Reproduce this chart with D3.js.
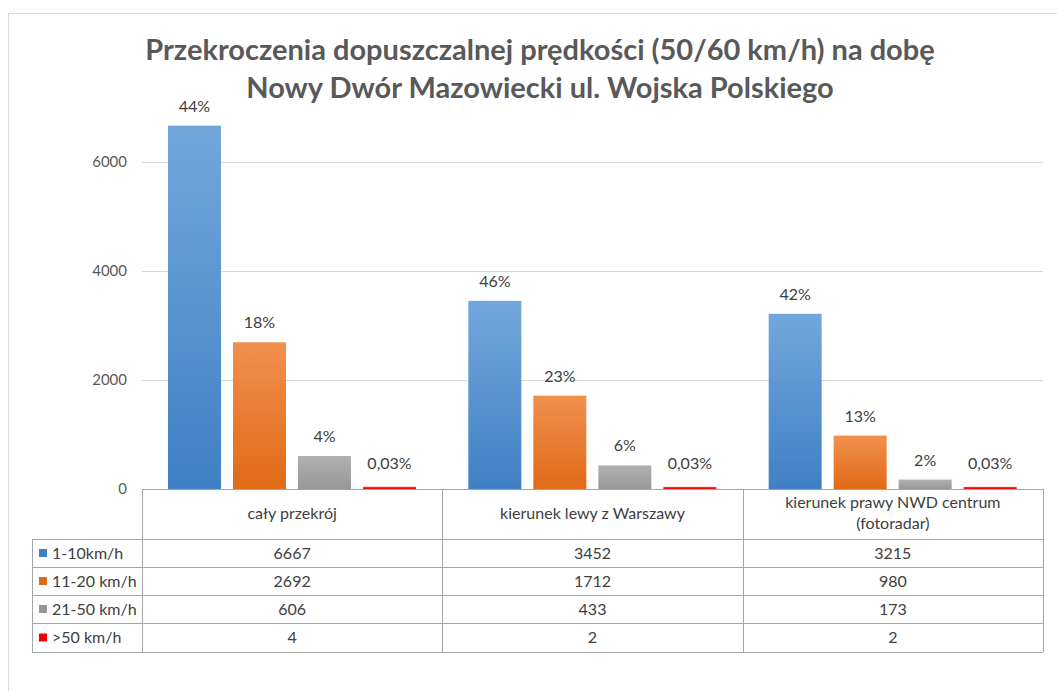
<!DOCTYPE html>
<html>
<head>
<meta charset="utf-8">
<script src="https://cdn.jsdelivr.net/npm/d3@7.9.0/dist/d3.min.js"></script>
<style>
  body { margin: 0; background: #fff; }
  text { font-family: Lato, "Open Sans", sans-serif; }
</style>
</head>
<body>
<div id="chart"></div>
<script>
// data
const categories = ["cały przekrój", "kierunek lewy z Warszawy", "kierunek prawy NWD centrum (fotoradar)"];
const seriesNames = ["1-10km/h", "11-20 km/h", "21-50 km/h", ">50 km/h"];
const values = [
  [6667, 3452, 3215],
  [2692, 1712, 980],
  [606, 433, 173],
  [4, 2, 2]
];
const percentLabels = [
  ["44%", "46%", "42%"],
  ["18%", "23%", "13%"],
  ["4%", "6%", "2%"],
  ["0,03%", "0,03%", "0,03%"]
];
const yTicks = [0, 2000, 4000, 6000];
const titleLines = ["Przekroczenia dopuszczalnej prędkości (50/60 km/h) na dobę",
                    "Nowy Dwór Mazowiecki ul. Wojska Polskiego"];
const colors = [["#72a7dc", "#3f80c4"], ["#f1904e", "#e06a17"], ["#b1b1b1", "#979797"], ["#ff3b3b", "#ee0000"]];

const W = 1057, H = 691;
const plot = {left: 142, right: 1043, top: 100, bottom: 489};
const rowH = [50, 28, 28, 28, 29];

const svg = d3.select("#chart").append("svg")
    .attr("width", W).attr("height", H);

// gradients
const defs = svg.append("defs");
colors.forEach((c, i) => {
  const g = defs.append("linearGradient").attr("id", "grad" + i)
      .attr("x1", 0).attr("y1", 0).attr("x2", 0).attr("y2", 1);
  g.append("stop").attr("offset", "0%").attr("stop-color", c[0]);
  g.append("stop").attr("offset", "100%").attr("stop-color", c[1]);
});

// outer frame
svg.append("rect")
    .attr("x", 8.5).attr("y", 13.5).attr("width", W).attr("height", H)
    .attr("fill", "none").attr("stroke", "#d9d9d9");

// title
svg.selectAll(".title").data(titleLines).join("text")
    .attr("class", "title")
    .attr("x", 540).attr("y", (d, i) => 60 + i * 38)
    .attr("text-anchor", "middle")
    .style("font-size", "29px").style("font-weight", "bold")
    .attr("fill", "#595959")
    .text(d => d);

// scales
const x0 = d3.scaleBand().domain(categories).range([plot.left, plot.right]);
const x1 = d3.scaleBand().domain(d3.range(seriesNames.length)).range([26, 274]).paddingInner(0.185);
const y = d3.scaleLinear().domain([0, 2000]).range([plot.bottom, plot.bottom - 109]);

// gridlines + y labels
svg.append("g").selectAll("line").data(yTicks.filter(d => d > 0)).join("line")
    .attr("x1", plot.left).attr("x2", plot.right)
    .attr("y1", d => Math.round(y(d)) + 0.5).attr("y2", d => Math.round(y(d)) + 0.5)
    .attr("stroke", "#d9d9d9");
svg.append("g").selectAll("text").data(yTicks).join("text")
    .attr("x", 127).attr("y", d => y(d) + 5)
    .attr("text-anchor", "end")
    .style("font-size", "15px").attr("fill", "#595959")
    .text(d => d);

// bars
const groups = svg.append("g").selectAll("g").data(values).join("g");
groups.selectAll("rect").data((row, si) => row.map((v, ci) => ({v, ci, si}))).join("rect")
    .attr("x", d => x0(categories[d.ci]) + x1(d.si))
    .attr("y", d => y(d.v) - (d.si === 3 ? 2 : 0))
    .attr("width", x1.bandwidth())
    .attr("height", d => plot.bottom - y(d.v) + (d.si === 3 ? 2 : 0))
    .attr("fill", d => `url(#grad${d.si})`);

// percentage labels
groups.selectAll("text").data((row, si) => row.map((v, ci) => ({v, ci, si}))).join("text")
    .attr("x", d => x0(categories[d.ci]) + x1(d.si) + x1.bandwidth() / 2)
    .attr("y", d => y(d.v) - (d.si === 3 ? 20 : 14))
    .attr("text-anchor", "middle")
    .style("font-size", "16px").attr("fill", "#404040")
    .text(d => percentLabels[d.si][d.ci]);

// data table
const rowY = [plot.bottom];
rowH.forEach((h, i) => rowY.push(rowY[i] + h));
const tableLeft = 32;
const tbl = svg.append("g").attr("stroke", "#a6a6a6").attr("fill", "none");
// horizontal lines
rowY.forEach((ry, i) => {
  tbl.append("line")
      .attr("x1", i === 0 ? plot.left : tableLeft).attr("x2", plot.right)
      .attr("y1", ry + 0.5).attr("y2", ry + 0.5);
});
// vertical lines
tbl.append("line").attr("x1", tableLeft + 0.5).attr("x2", tableLeft + 0.5)
    .attr("y1", rowY[1]).attr("y2", rowY[5]);
[...categories.map(c => x0(c)), plot.right].forEach(xv => {
  tbl.append("line").attr("x1", Math.round(xv) + 0.5).attr("x2", Math.round(xv) + 0.5)
      .attr("y1", rowY[0]).attr("y2", rowY[5]);
});

// header text
const headerLines = [["cały przekrój"], ["kierunek lewy z Warszawy"], ["kierunek prawy NWD centrum", "(fotoradar)"]];
categories.forEach((c, ci) => {
  const lines = headerLines[ci];
  svg.append("text")
      .attr("x", x0(c) + x0.bandwidth() / 2)
      .attr("y", rowY[0] + 30 - (lines.length - 1) * 11)
      .attr("text-anchor", "middle")
      .style("font-size", "16px").attr("fill", "#404040")
      .selectAll("tspan").data(lines).join("tspan")
        .attr("x", x0(c) + x0.bandwidth() / 2)
        .attr("dy", (d, i) => i === 0 ? 0 : 21)
        .text(d => d);
});

// rows: legend + values
seriesNames.forEach((s, si) => {
  const cy = rowY[si + 1] + rowH[si + 1] / 2;
  svg.append("rect")
      .attr("x", 39).attr("y", cy - 4).attr("width", 8).attr("height", 8)
      .attr("fill", colors[si][1]);
  svg.append("text")
      .attr("x", 52).attr("y", cy + 5.5)
      .style("font-size", "16px").attr("fill", "#404040")
      .text(s);
  values[si].forEach((v, ci) => {
    svg.append("text")
        .attr("x", x0(categories[ci]) + x0.bandwidth() / 2).attr("y", cy + 5.5)
        .attr("text-anchor", "middle")
        .style("font-size", "16px").attr("fill", "#404040")
        .text(v);
  });
});
</script>
</body>
</html>
